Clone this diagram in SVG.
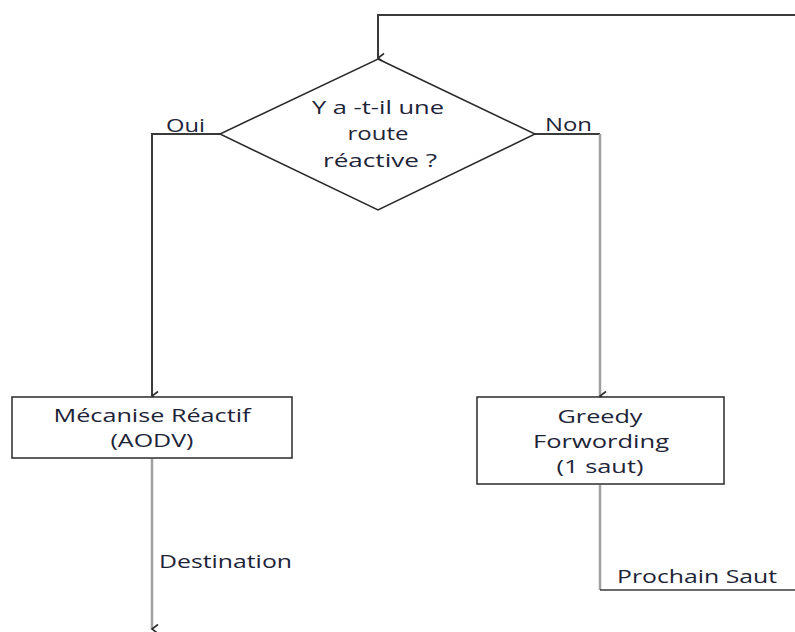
<svg xmlns="http://www.w3.org/2000/svg" width="795" height="632" viewBox="0 0 795 632">
  <style>
    .node { fill: #ffffff; stroke: #2a2a2a; stroke-width: 1.5; }
    .lbl { font-family: "Open Sans", "Noto Sans", "DejaVu Sans", sans-serif; font-size: 18px; fill: #1e2438; }
    .mid { text-anchor: middle; }
    .dark { fill: none; stroke: #3a3a3a; stroke-width: 2; }
    .grey { fill: none; stroke: #a0a0a0; stroke-width: 2.5; }
  </style>
  <defs>
    <marker id="arr" markerWidth="12" markerHeight="12" refX="6" refY="10" orient="auto" markerUnits="userSpaceOnUse" viewBox="0 0 12 12">
      <path d="M1.5,4 L6,10 L10.5,4" fill="none" stroke="#2e2e2e" stroke-width="1.6"/>
    </marker>
  </defs>
  <rect width="795" height="632" fill="#ffffff"/>

  <g id="connectors">
    <!-- loop back into the decision -->
    <polyline class="dark" points="795,15 378,15 378,58" marker-end="url(#arr)"/>
    <!-- yes branch -->
    <polyline class="dark" points="220,134 152,134 152,396" marker-end="url(#arr)"/>
    <!-- no branch -->
    <polyline class="dark" points="535,134 600,134"/>
    <polyline class="grey" points="600,134 600,396" marker-end="url(#arr)"/>
    <!-- reactive to destination -->
    <polyline class="grey" points="152,459 152,629" marker-end="url(#arr)"/>
    <!-- greedy to next hop -->
    <polyline class="grey" points="600,485 600,590"/>
    <line x1="600" y1="590" x2="795" y2="590" stroke="#3a3a3a" stroke-width="1.5"/>
    <text class="lbl" x="166" y="132" textLength="39" lengthAdjust="spacingAndGlyphs">Oui</text>
    <text class="lbl" x="545" y="131" textLength="47" lengthAdjust="spacingAndGlyphs">Non</text>
    <text class="lbl" x="159" y="568" textLength="133" lengthAdjust="spacingAndGlyphs">Destination</text>
    <text class="lbl" x="617" y="583" textLength="160" lengthAdjust="spacingAndGlyphs">Prochain Saut</text>
  </g>

  <g id="decision">
    <polygon class="node" points="378,59 535,134 378,210 220,134"/>
    <text class="lbl mid" x="378" y="114" textLength="132" lengthAdjust="spacingAndGlyphs">Y a -t-il une</text>
    <text class="lbl mid" x="378" y="140" textLength="61" lengthAdjust="spacingAndGlyphs">route</text>
    <text class="lbl mid" x="380" y="167" textLength="114" lengthAdjust="spacingAndGlyphs">réactive ?</text>
  </g>

  <g id="reactive">
    <rect class="node" x="12" y="397" width="280" height="61"/>
    <text class="lbl mid" x="152" y="422" textLength="197" lengthAdjust="spacingAndGlyphs">Mécanise Réactif</text>
    <text class="lbl mid" x="152" y="447" textLength="83" lengthAdjust="spacingAndGlyphs">(AODV)</text>
  </g>

  <g id="greedy">
    <rect class="node" x="477" y="397" width="247" height="87"/>
    <text class="lbl mid" x="600" y="423" textLength="85" lengthAdjust="spacingAndGlyphs">Greedy</text>
    <text class="lbl mid" x="601" y="448" textLength="136" lengthAdjust="spacingAndGlyphs">Forwording</text>
    <text class="lbl mid" x="600" y="473" textLength="87" lengthAdjust="spacingAndGlyphs">(1 saut)</text>
  </g>
</svg>
